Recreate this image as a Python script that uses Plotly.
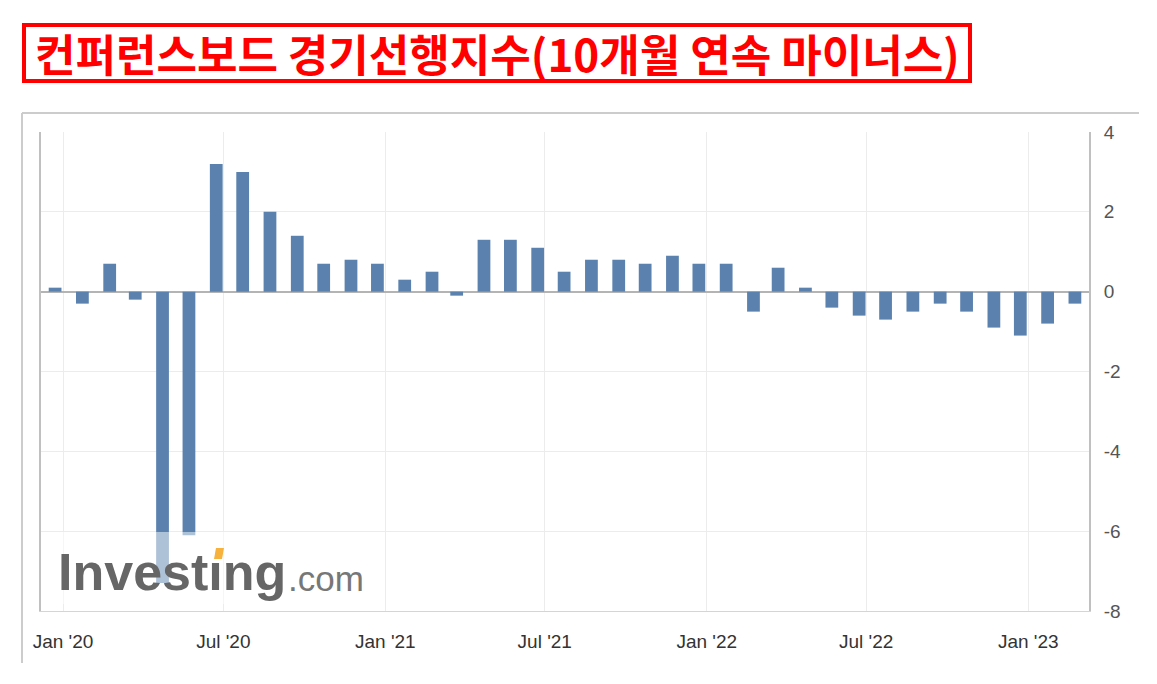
import plotly.graph_objects as go

# ---- data ----
release_dates = [
    "2019-12-23", "2020-01-23", "2020-02-23", "2020-03-23", "2020-04-23", "2020-05-23",
    "2020-06-23", "2020-07-23", "2020-08-23", "2020-09-23", "2020-10-23", "2020-11-23",
    "2020-12-23", "2021-01-23", "2021-02-23", "2021-03-23", "2021-04-23", "2021-05-23",
    "2021-06-23", "2021-07-23", "2021-08-23", "2021-09-23", "2021-10-23", "2021-11-23",
    "2021-12-23", "2022-01-23", "2022-02-23", "2022-03-23", "2022-04-23", "2022-05-23",
    "2022-06-23", "2022-07-23", "2022-08-23", "2022-09-23", "2022-10-23", "2022-11-23",
    "2022-12-23", "2023-01-23", "2023-02-23",
]
lei_change = [
    0.1, -0.3, 0.7, -0.2, -7.3, -6.1,
    3.2, 3.0, 2.0, 1.4, 0.7, 0.8,
    0.7, 0.3, 0.5, -0.1, 1.3, 1.3,
    1.1, 0.5, 0.8, 0.8, 0.7, 0.9,
    0.7, 0.7, -0.5, 0.6, 0.1, -0.4,
    -0.6, -0.7, -0.5, -0.3, -0.5, -0.9,
    -1.1, -0.8, -0.3,
]
x_tick_vals = ["2020-01-01", "2020-07-01", "2021-01-01", "2021-07-01",
               "2022-01-01", "2022-07-01", "2023-01-01"]
x_tick_text = ["Jan '20", "Jul '20", "Jan '21", "Jul '21", "Jan '22", "Jul '22", "Jan '23"]
y_tick_vals = [-8, -6, -4, -2, 0, 2, 4]
y_tick_text = ["-8", "-6", "-4", "-2", "0", "2", "4"]
title_text = "컨퍼런스보드 경기선행지수(10개월 연속 마이너스)"

# ---- layout geometry (pixels) ----
W, H = 1157, 684
L, R, T, B = 41, 1089, 132, 611


def px(x):
    return (x - L) / (R - L)


def py(y):
    return (B - y) / (B - T)


DAY_MS = 86400000

fig = go.Figure()
fig.add_trace(go.Bar(
    x=release_dates, y=lei_change,
    marker=dict(color="#5b82ae", line=dict(width=0)),
    width=[14.5 * DAY_MS] * len(release_dates),
    hoverinfo="x+y", showlegend=False,
))

shapes = [
    # title box
    dict(type="rect", xref="paper", yref="paper",
         x0=px(24), x1=px(970), y0=py(25), y1=py(81),
         line=dict(color="#ff0000", width=4), fillcolor="rgba(0,0,0,0)", layer="above"),
    # outer container lines
    dict(type="line", xref="paper", yref="paper",
         x0=px(22), x1=px(1139), y0=py(113), y1=py(113),
         line=dict(color="#cccccc", width=2)),
    dict(type="line", xref="paper", yref="paper",
         x0=px(22), x1=px(22), y0=py(113), y1=py(663),
         line=dict(color="#cccccc", width=2)),
    # watermark veil
    dict(type="rect", xref="paper", yref="paper",
         x0=px(55), x1=px(370), y0=py(532), y1=py(604),
         line=dict(width=0), fillcolor="rgba(255,255,255,0.5)", layer="above"),
    # orange i-dot of logo
    dict(type="path", xref="paper", yref="paper",
         path=f"M {px(214)} {py(559)} L {px(222)} {py(559)} L {px(224)} {py(548)} L {px(216)} {py(548)} Z",
         line=dict(width=0), fillcolor="#f6b23c", layer="above"),
]

annotations = [
    dict(text=title_text, xref="paper", yref="paper", x=px(497), y=py(53),
         xanchor="center", yanchor="middle", showarrow=False,
         font=dict(family="Noto Sans CJK KR", size=44, color="#ff0000", weight="bold")),
    dict(text="<b>Investıng</b>", xref="paper", yref="paper", x=px(56), y=py(572),
         xanchor="left", yanchor="middle", showarrow=False,
         font=dict(family="Liberation Sans", size=52, color="#666666")),
    dict(text=".com", xref="paper", yref="paper", x=px(286), y=py(578),
         xanchor="left", yanchor="middle", showarrow=False,
         font=dict(family="Liberation Sans", size=35, color="#777777")),
]

fig.update_layout(
    width=W, height=H,
    margin=dict(l=L, r=W - R, t=T, b=H - B, pad=0),
    paper_bgcolor="white", plot_bgcolor="white",
    shapes=shapes, annotations=annotations,
    font=dict(family="Liberation Sans", color="#333333"),
)
fig.update_xaxes(
    type="date", range=["2019-12-07", "2023-03-11"],
    tickvals=x_tick_vals, ticktext=x_tick_text,
    showgrid=True, gridcolor="#ececec", gridwidth=1,
    showline=True, linecolor="#ccd6eb", linewidth=1,
    ticks="", tickfont=dict(size=19, color="#333333"),
    ticklabelstandoff=13, zeroline=False, fixedrange=True,
)
fig.update_yaxes(
    side="right", range=[-8, 4], tickvals=y_tick_vals, ticktext=y_tick_text,
    showgrid=True, gridcolor="#ececec", gridwidth=1,
    showline=True, mirror=True, linecolor="#c0c0c0", linewidth=2,
    zeroline=True, zerolinecolor="#b4b4b4", zerolinewidth=2,
    ticks="", tickfont=dict(size=19, color="#555555"),
    ticklabelstandoff=9, fixedrange=True,
)

fig.write_html("out.html", config={"displayModeBar": False},
               post_script="document.body.style.margin='0px';")
